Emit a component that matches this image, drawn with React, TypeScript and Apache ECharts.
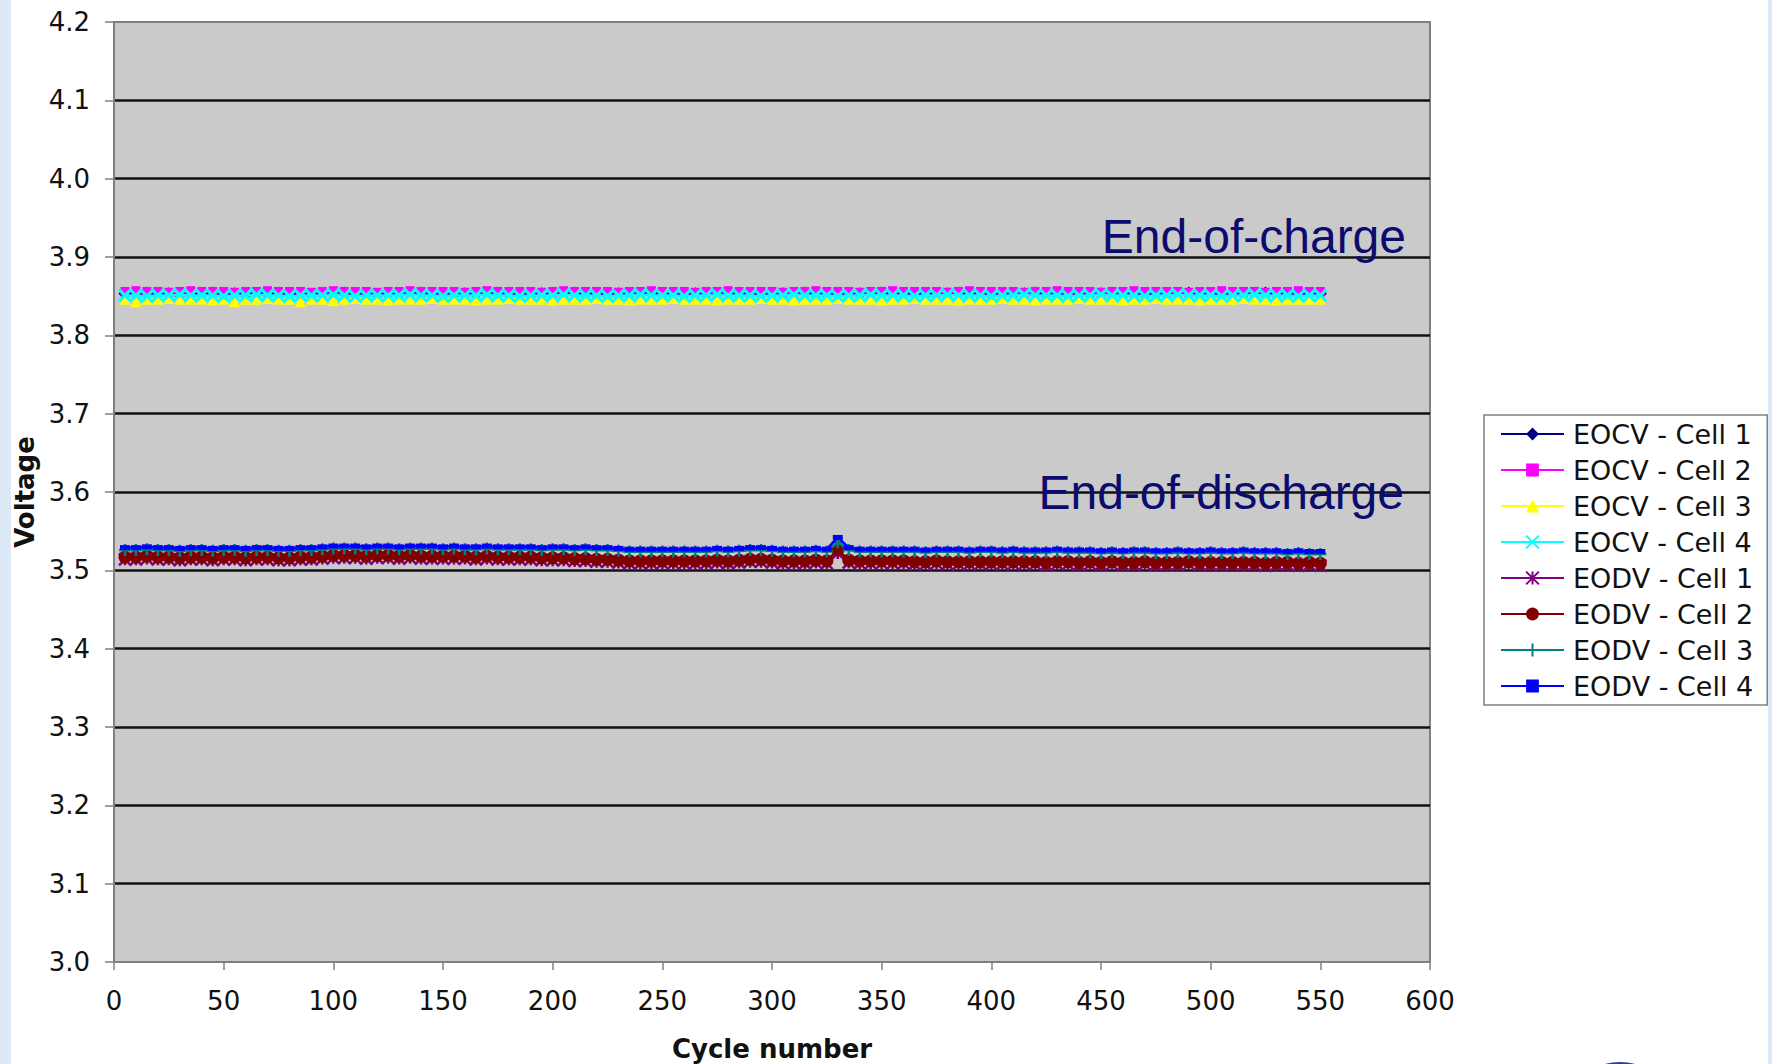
import React, { useEffect, useRef } from "react";
import * as echarts from "echarts";

// Cycle numbers at which end-of-charge / end-of-discharge voltages were logged
const cycles = [
  5, 10, 15, 20, 25, 30, 35, 40, 45, 50,
  55, 60, 65, 70, 75, 80, 85, 90, 95, 100,
  105, 110, 115, 120, 125, 130, 135, 140, 145, 150,
  155, 160, 165, 170, 175, 180, 185, 190, 195, 200,
  205, 210, 215, 220, 225, 230, 235, 240, 245, 250,
  255, 260, 265, 270, 275, 280, 285, 290, 295, 300,
  305, 310, 315, 320, 325, 330, 335, 340, 345, 350,
  355, 360, 365, 370, 375, 380, 385, 390, 395, 400,
  405, 410, 415, 420, 425, 430, 435, 440, 445, 450,
  455, 460, 465, 470, 475, 480, 485, 490, 495, 500,
  505, 510, 515, 520, 525, 530, 535, 540, 545, 550,
];

// Voltages in millivolts
const eocvCell1 = [
  3853, 3853, 3854, 3853, 3853, 3852, 3853, 3853, 3854, 3853,
  3853, 3852, 3853, 3853, 3854, 3853, 3853, 3852, 3853, 3853,
  3854, 3853, 3853, 3852, 3853, 3853, 3853, 3854, 3853, 3853,
  3852, 3853, 3853, 3853, 3854, 3853, 3853, 3852, 3853, 3853,
  3853, 3854, 3853, 3853, 3852, 3853, 3853, 3853, 3854, 3853,
  3853, 3852, 3853, 3853, 3853, 3854, 3853, 3853, 3852, 3853,
  3853, 3853, 3854, 3853, 3853, 3852, 3853, 3853, 3853, 3854,
  3853, 3853, 3852, 3853, 3853, 3853, 3854, 3853, 3853, 3852,
  3853, 3853, 3853, 3854, 3853, 3853, 3852, 3853, 3853, 3853,
  3854, 3853, 3853, 3852, 3853, 3853, 3853, 3854, 3853, 3853,
  3852, 3853, 3853, 3853, 3854, 3853, 3853, 3852, 3853, 3853,
];
const eocvCell2 = [
  3856, 3857, 3856, 3856, 3855, 3856, 3857, 3856, 3856, 3856,
  3855, 3856, 3856, 3857, 3856, 3856, 3856, 3855, 3856, 3857,
  3856, 3856, 3856, 3855, 3856, 3856, 3857, 3856, 3856, 3856,
  3856, 3855, 3856, 3857, 3856, 3856, 3856, 3856, 3855, 3856,
  3857, 3856, 3856, 3856, 3856, 3855, 3856, 3856, 3857, 3856,
  3856, 3856, 3855, 3856, 3856, 3857, 3856, 3856, 3856, 3856,
  3855, 3856, 3856, 3857, 3856, 3856, 3856, 3855, 3856, 3856,
  3857, 3856, 3856, 3856, 3856, 3855, 3856, 3857, 3856, 3856,
  3856, 3856, 3855, 3856, 3856, 3857, 3856, 3856, 3856, 3855,
  3856, 3856, 3857, 3856, 3856, 3856, 3856, 3855, 3856, 3856,
  3857, 3856, 3856, 3856, 3855, 3856, 3856, 3857, 3856, 3856,
];
const eocvCell3 = [
  3846, 3843, 3846, 3846, 3847, 3846, 3846, 3846, 3845, 3846,
  3843, 3846, 3846, 3847, 3846, 3846, 3843, 3846, 3846, 3844,
  3846, 3847, 3846, 3846, 3845, 3846, 3846, 3846, 3847, 3846,
  3846, 3846, 3845, 3846, 3846, 3847, 3846, 3846, 3846, 3845,
  3846, 3846, 3846, 3847, 3846, 3846, 3845, 3846, 3846, 3846,
  3847, 3846, 3846, 3846, 3845, 3846, 3846, 3846, 3847, 3846,
  3846, 3845, 3846, 3846, 3846, 3847, 3846, 3846, 3846, 3845,
  3846, 3846, 3847, 3846, 3846, 3846, 3845, 3846, 3846, 3846,
  3847, 3846, 3846, 3845, 3846, 3846, 3846, 3847, 3846, 3846,
  3846, 3845, 3846, 3846, 3847, 3846, 3846, 3846, 3845, 3846,
  3846, 3846, 3847, 3846, 3846, 3845, 3846, 3846, 3846, 3846,
];
const eocvCell4 = [
  3851, 3851, 3850, 3851, 3851, 3852, 3851, 3851, 3851, 3850,
  3851, 3851, 3852, 3851, 3851, 3850, 3851, 3851, 3851, 3852,
  3851, 3850, 3851, 3851, 3851, 3851, 3852, 3851, 3851, 3850,
  3851, 3851, 3851, 3852, 3851, 3851, 3850, 3851, 3851, 3851,
  3852, 3851, 3851, 3851, 3850, 3851, 3851, 3852, 3851, 3851,
  3851, 3850, 3851, 3851, 3852, 3851, 3851, 3851, 3850, 3851,
  3851, 3852, 3851, 3851, 3851, 3850, 3851, 3851, 3852, 3851,
  3851, 3851, 3850, 3851, 3851, 3852, 3851, 3851, 3851, 3850,
  3851, 3851, 3852, 3851, 3851, 3851, 3850, 3851, 3851, 3852,
  3851, 3851, 3851, 3850, 3851, 3851, 3852, 3851, 3851, 3851,
  3850, 3851, 3851, 3852, 3851, 3851, 3851, 3850, 3851, 3851,
];
const eodvCell1 = [
  3514, 3514, 3515, 3514, 3514, 3513, 3514, 3514, 3513, 3514,
  3514, 3513, 3514, 3514, 3513, 3513, 3514, 3514, 3515, 3516,
  3516, 3516, 3515, 3516, 3516, 3515, 3516, 3515, 3515, 3515,
  3515, 3515, 3514, 3515, 3514, 3514, 3514, 3514, 3513, 3513,
  3513, 3512, 3512, 3511, 3511, 3510, 3509, 3509, 3509, 3509,
  3509, 3509, 3509, 3509, 3510, 3509, 3510, 3511, 3511, 3510,
  3509, 3509, 3509, 3510, 3509, 3522, 3510, 3509, 3509, 3509,
  3509, 3509, 3508, 3508, 3509, 3508, 3508, 3508, 3508, 3508,
  3508, 3508, 3508, 3508, 3507, 3508, 3508, 3507, 3508, 3507,
  3508, 3507, 3507, 3508, 3507, 3507, 3507, 3508, 3507, 3507,
  3507, 3507, 3507, 3507, 3506, 3507, 3507, 3506, 3507, 3506,
];
const eodvCell2 = [
  3517, 3517, 3518, 3517, 3517, 3516, 3517, 3517, 3516, 3517,
  3517, 3516, 3517, 3517, 3516, 3516, 3517, 3517, 3518, 3519,
  3519, 3519, 3518, 3519, 3519, 3518, 3519, 3518, 3518, 3518,
  3518, 3518, 3517, 3518, 3517, 3517, 3517, 3517, 3516, 3516,
  3516, 3515, 3515, 3514, 3514, 3513, 3512, 3512, 3512, 3512,
  3512, 3512, 3512, 3512, 3513, 3512, 3513, 3514, 3514, 3513,
  3512, 3512, 3512, 3513, 3512, 3526, 3513, 3512, 3512, 3512,
  3512, 3512, 3511, 3511, 3512, 3511, 3511, 3511, 3511, 3511,
  3511, 3511, 3511, 3511, 3510, 3511, 3511, 3510, 3511, 3510,
  3511, 3510, 3510, 3511, 3510, 3510, 3510, 3511, 3510, 3510,
  3510, 3510, 3510, 3510, 3509, 3510, 3510, 3509, 3510, 3509,
];
const eodvCell3 = [
  3526, 3526, 3527, 3526, 3526, 3525, 3526, 3526, 3525, 3526,
  3526, 3525, 3526, 3526, 3525, 3525, 3526, 3526, 3527, 3528,
  3528, 3528, 3527, 3528, 3528, 3527, 3528, 3528, 3528, 3527,
  3528, 3527, 3527, 3528, 3527, 3527, 3527, 3527, 3526, 3527,
  3527, 3526, 3527, 3526, 3526, 3525, 3524, 3524, 3524, 3524,
  3524, 3524, 3524, 3524, 3525, 3524, 3525, 3526, 3526, 3525,
  3524, 3524, 3524, 3525, 3524, 3536, 3526, 3524, 3524, 3524,
  3524, 3524, 3524, 3523, 3524, 3524, 3524, 3523, 3524, 3524,
  3523, 3524, 3523, 3523, 3523, 3524, 3523, 3523, 3523, 3522,
  3523, 3522, 3523, 3523, 3522, 3522, 3523, 3522, 3522, 3523,
  3522, 3522, 3523, 3522, 3522, 3522, 3521, 3522, 3521, 3521,
];
const eodvCell4 = [
  3529, 3529, 3530, 3529, 3529, 3528, 3529, 3529, 3528, 3529,
  3529, 3528, 3529, 3529, 3528, 3528, 3529, 3529, 3530, 3531,
  3531, 3531, 3530, 3531, 3531, 3530, 3531, 3531, 3531, 3530,
  3531, 3530, 3530, 3531, 3530, 3530, 3530, 3530, 3529, 3530,
  3530, 3529, 3530, 3529, 3529, 3528, 3527, 3527, 3527, 3527,
  3527, 3527, 3527, 3527, 3528, 3527, 3528, 3529, 3529, 3528,
  3527, 3527, 3527, 3528, 3527, 3542, 3529, 3527, 3527, 3527,
  3527, 3527, 3527, 3526, 3527, 3527, 3527, 3526, 3527, 3527,
  3526, 3527, 3526, 3526, 3526, 3527, 3526, 3526, 3526, 3525,
  3526, 3525, 3526, 3526, 3525, 3525, 3526, 3525, 3525, 3526,
  3525, 3525, 3526, 3525, 3525, 3525, 3524, 3525, 3524, 3524,
];

const seriesNames = [
  "EOCV - Cell 1",
  "EOCV - Cell 2",
  "EOCV - Cell 3",
  "EOCV - Cell 4",
  "EODV - Cell 1",
  "EODV - Cell 2",
  "EODV - Cell 3",
  "EODV - Cell 4",
];
const seriesValues = [
  eocvCell1, eocvCell2, eocvCell3, eocvCell4,
  eodvCell1, eodvCell2, eodvCell3, eodvCell4,
];

const yTicks = ["3.0", "3.1", "3.2", "3.3", "3.4", "3.5", "3.6", "3.7", "3.8", "3.9", "4.0", "4.1", "4.2"];

// Marker shapes in the style of spreadsheet line charts
const CROSS = "path://M0,0L10,10M10,0L0,10";
const STAR = "path://M0,0L10,10M10,0L0,10M5,0L5,10";
const PLUS = "path://M5,0L5,10M0,5L10,5";

const seriesStyles = [
  { color: "#000080", symbol: "diamond", size: 13, stroke: false },
  { color: "#ff00ff", symbol: "rect", size: 9, stroke: false },
  { color: "#ffff00", symbol: "triangle", size: 11, stroke: false },
  { color: "#00ffff", symbol: CROSS, size: 12, stroke: true, strokeWidth: 3 },
  { color: "#800080", symbol: STAR, size: 12, stroke: true, strokeWidth: 2.5 },
  { color: "#800000", symbol: "circle", size: 13, stroke: false },
  { color: "#008080", symbol: PLUS, size: 12, stroke: true, strokeWidth: 2.5 },
  { color: "#0000ff", symbol: "rect", size: [10, 5], stroke: false },
];

const AXIS_FONT = '"DejaVu Sans", Verdana, sans-serif';
const NOTE_FONT = '"Liberation Sans", Arial, sans-serif';

export default function App() {
  const ref = useRef<HTMLDivElement>(null);

  useEffect(() => {
    if (!ref.current) return;
    const chart = echarts.init(ref.current, null, { renderer: "svg" });

    const series = seriesNames.map((name, i) => {
      const st = seriesStyles[i];
      return {
        name,
        type: "line",
        data: cycles.map((c, k) => [c, seriesValues[i][k] / 1000]),
        symbol: st.symbol,
        symbolSize: st.size,
        showAllSymbol: true,
        lineStyle: { color: st.color, width: 2.5 },
        itemStyle: st.stroke
          ? { color: st.color, borderColor: st.color, borderWidth: st.strokeWidth }
          : { color: st.color, borderWidth: 0 },
        emphasis: { disabled: true },
        z: 2 + i,
      };
    });

    chart.setOption({
      animation: false,
      backgroundColor: "#ffffff",
      grid: {
        left: 114,
        top: 22,
        width: 1316,
        height: 940,
        containLabel: false,
        outerBoundsMode: "none",
        show: true,
        backgroundColor: "#cacaca",
        borderColor: "#808080",
        borderWidth: 2,
      },
      xAxis: {
        type: "value",
        min: 0,
        max: 600,
        interval: 50,
        name: "Cycle number",
        nameLocation: "middle",
        nameGap: 74,
        nameTextStyle: { fontFamily: AXIS_FONT, fontWeight: "bold", fontSize: 26, color: "#111" },
        axisLine: { show: true, lineStyle: { color: "#808080", width: 2 } },
        axisTick: { show: true, inside: false, length: 8, lineStyle: { color: "#808080", width: 1.5 } },
        axisLabel: { fontFamily: AXIS_FONT, fontSize: 26, color: "#111", margin: 26 },
        splitLine: { show: false },
      },
      yAxis: {
        type: "value",
        min: 3.0,
        max: 4.2,
        interval: 0.1,
        name: "Voltage",
        nameLocation: "middle",
        nameGap: 76,
        nameRotate: 90,
        nameTextStyle: { fontFamily: AXIS_FONT, fontWeight: "bold", fontSize: 26, color: "#111" },
        axisLine: { show: true, lineStyle: { color: "#808080", width: 2 } },
        axisTick: { show: true, inside: false, length: 9, lineStyle: { color: "#808080", width: 1.5 } },
        axisLabel: {
          fontFamily: AXIS_FONT,
          fontSize: 26,
          color: "#111",
          margin: 24,
          formatter: (v: number) => yTicks[Math.round((v - 3.0) * 10)] ?? v.toFixed(1),
        },
        splitLine: {
          show: true,
          showMinLine: false,
          showMaxLine: false,
          lineStyle: { color: "#111111", width: 2.5 },
        },
      },
      legend: {
        orient: "vertical",
        left: 1484,
        top: 415,
        padding: [4, 14, 4, 16],
        backgroundColor: "#ffffff",
        borderColor: "#808080",
        borderWidth: 1.5,
        borderRadius: 0,
        itemWidth: 63,
        itemHeight: 16,
        itemGap: 6,
        selectedMode: false,
        data: seriesNames,
        textStyle: {
          fontFamily: AXIS_FONT,
          fontSize: 27,
          lineHeight: 30,
          color: "#111",
          padding: [0, 0, 0, 4],
        },
      },
      graphic: [
        { type: "rect", left: 0, top: 0, shape: { width: 11, height: 1064 }, style: { fill: "#dde9f6" }, z: 0 },
        { type: "rect", left: 1768, top: 0, shape: { width: 4, height: 1064 }, style: { fill: "#dde9f6" }, z: 0 },
        { type: "circle", shape: { cx: 1620, cy: 1122, r: 60 }, style: { fill: "#3a3a8c" }, z: 0 },
        {
          type: "text",
          x: 1406,
          y: 236,
          z: 50,
          style: { text: "End-of-charge", fill: "#0c0c6e", font: `48px ${NOTE_FONT}`, align: "right", verticalAlign: "middle" },
        },
        {
          type: "text",
          x: 1404,
          y: 492,
          z: 50,
          style: { text: "End-of-discharge", fill: "#0c0c6e", font: `48px ${NOTE_FONT}`, align: "right", verticalAlign: "middle" },
        },
      ],
      series,
    });

    return () => chart.dispose();
  }, []);

  return (
    <div
      ref={ref}
      style={{ position: "fixed", left: 0, top: 0, width: 1772, height: 1064, background: "#ffffff" }}
    />
  );
}
